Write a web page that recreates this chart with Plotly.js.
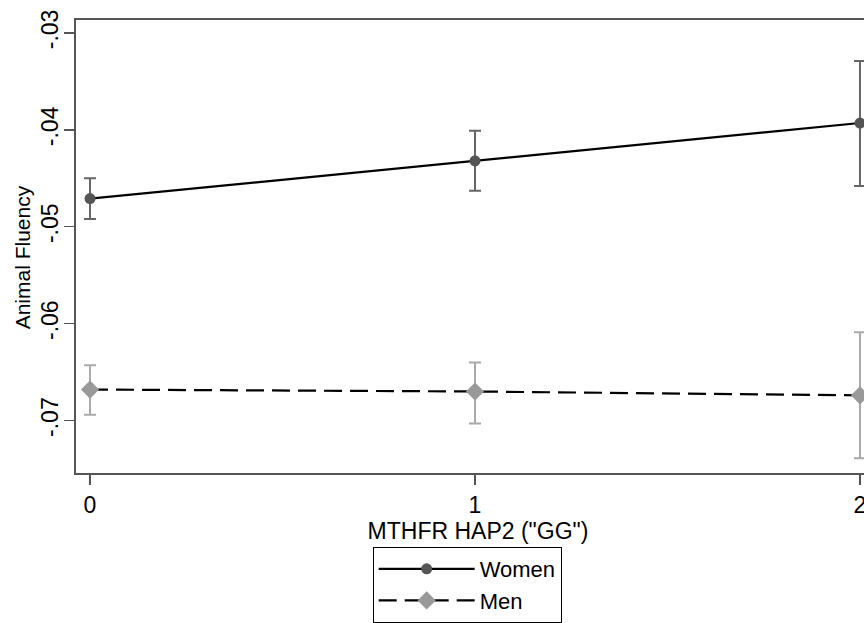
<!DOCTYPE html>
<html>
<head>
<meta charset="utf-8">
<script src="https://cdn.plot.ly/plotly-3.0.1.min.js"></script>
<style>
html,body{margin:0;padding:0;overflow:hidden;background:#fff;}
#chart{width:880px;height:623px;}
</style>
</head>
<body>
<div id="chart"></div>
<script>
var categories = [0, 1, 2];
var womenValues = [-0.0471, -0.0432, -0.0393];
var womenUpper = [-0.0450, -0.0401, -0.0329];
var womenLower = [-0.0492, -0.0463, -0.0458];
var menValues = [-0.0668, -0.0670, -0.0674];
var menUpper = [-0.0643, -0.0640, -0.0609];
var menLower = [-0.0694, -0.0703, -0.0739];
var yTickVals = [-0.03, -0.04, -0.05, -0.06, -0.07];
var yTickText = ['-.03', '-.04', '-.05', '-.06', '-.07'];
var xTickVals = [0, 1, 2];
var xTickText = ['0', '1', '2'];
var yTitle = 'Animal Fluency';
var xTitle = 'MTHFR HAP2 ("GG")';

function plus(v, hi) { return v.map(function (d, i) { return hi[i] - d; }); }
function minus(v, lo) { return v.map(function (d, i) { return d - lo[i]; }); }

var font = 'Liberation Sans, Arial, sans-serif';

var traces = [
  {
    x: categories, y: womenValues, name: 'Women', type: 'scatter', mode: 'lines+markers',
    line: {color: '#000000', width: 2.2},
    marker: {symbol: 'circle', size: 11, color: '#555555'},
    error_y: {type: 'data', array: plus(womenValues, womenUpper), arrayminus: minus(womenValues, womenLower),
              color: '#666666', thickness: 2, width: 6}
  },
  {
    x: categories, y: menValues, name: 'Men', type: 'scatter', mode: 'lines+markers',
    line: {color: '#000000', width: 2.2, dash: '18px,8px'},
    marker: {symbol: 'diamond', size: 14, color: '#999999'},
    error_y: {type: 'data', array: plus(menValues, menUpper), arrayminus: minus(menValues, menLower),
              color: '#aaaaaa', thickness: 2, width: 6}
  }
];

var layout = {
  width: 880, height: 623,
  margin: {l: 76, r: 0, t: 20, b: 145},
  paper_bgcolor: '#ffffff', plot_bgcolor: '#ffffff',
  font: {family: font, color: '#000000', size: 22},
  showlegend: true,
  legend: {
    x: 0.369, y: -0.164, xanchor: 'left', yanchor: 'top',
    bordercolor: '#000000', borderwidth: 1, bgcolor: '#ffffff',
    font: {family: font, size: 22, color: '#000000'},
    itemwidth: 96, tracegroupgap: 0
  },
  xaxis: {
    range: [-0.0364, 2.052],
    tickvals: xTickVals, ticktext: xTickText,
    ticks: 'outside', ticklen: 10, tickwidth: 1.5, tickcolor: '#555555',
    showline: true, linecolor: '#555555', linewidth: 2, mirror: true,
    showgrid: false, zeroline: false,
    tickfont: {family: font, size: 23, color: '#000000'},
    title: {text: xTitle, font: {family: font, size: 23, color: '#000000'}, standoff: 2}
  },
  yaxis: {
    range: [-0.07541, -0.02867],
    tickvals: yTickVals, ticktext: yTickText,
    tickangle: -90,
    ticks: 'outside', ticklen: 10, tickwidth: 1.5, tickcolor: '#555555',
    showline: true, linecolor: '#555555', linewidth: 2, mirror: true,
    showgrid: false, zeroline: false,
    ticklabelstandoff: -3,
    tickfont: {family: font, size: 23, color: '#000000'}
  },
  annotations: [{
    text: yTitle, xref: 'paper', yref: 'paper', x: -0.0672, y: 0.476,
    xanchor: 'center', yanchor: 'middle', textangle: -90, showarrow: false,
    font: {family: font, size: 21, color: '#000000'}
  }]
};

Plotly.newPlot('chart', traces, layout, {displayModeBar: false, staticPlot: true});
</script>
</body>
</html>
